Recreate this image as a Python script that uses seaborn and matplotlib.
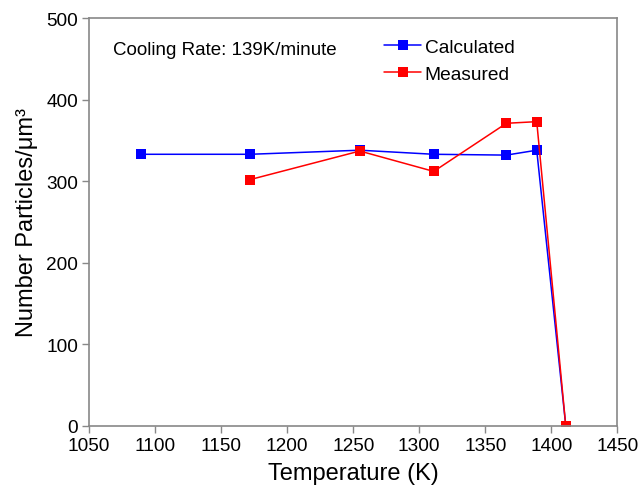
import matplotlib
matplotlib.use("Agg")
import matplotlib.pyplot as plt
import seaborn as sns
import pandas as pd

calc_temp = [1089, 1172, 1255, 1311, 1366, 1389, 1411]
calc_vals = [333, 333, 338, 333, 332, 338, 0]
meas_temp = [1172, 1255, 1311, 1366, 1389, 1411]
meas_vals = [302, 337, 312, 371, 373, 0]
series = ["Calculated", "Measured"]
colors = ["#0000ff", "#ff0000"]
x_ticks = [1050, 1100, 1150, 1200, 1250, 1300, 1350, 1400, 1450]
y_ticks = [0, 100, 200, 300, 400, 500]

df = pd.concat([
    pd.DataFrame({"T": calc_temp, "N": calc_vals, "series": series[0]}),
    pd.DataFrame({"T": meas_temp, "N": meas_vals, "series": series[1]}),
])

sns.set_style("ticks")
plt.rcParams['font.family'] = ['Liberation Sans', 'DejaVu Sans']
plt.rcParams['text.color'] = 'black'
plt.rcParams['axes.labelcolor'] = 'black'
plt.rcParams['xtick.labelcolor'] = 'black'
plt.rcParams['ytick.labelcolor'] = 'black'

fig = plt.figure(figsize=(6.41, 4.89), dpi=100)
ax = fig.add_axes([0.139, 0.127, 0.824, 0.834])
sns.lineplot(data=df, x="T", y="N", hue="series", hue_order=series,
             palette=colors, marker="s", markersize=7, markeredgewidth=0,
             linewidth=1.1, sort=False, ax=ax, estimator=None)

ax.set_xlim(1050, 1450)
ax.set_ylim(0, 500)
ax.set_xticks(x_ticks)
ax.set_yticks(y_ticks)
ax.tick_params(labelsize=13.7, direction="out", length=5, color="#888888", width=1, pad=3)
for s in ax.spines.values():
    s.set_visible(True)
    s.set_color("#888888")
    s.set_linewidth(1.2)
ax.set_xlabel("Temperature (K)", fontsize=17, labelpad=6)
ax.set_ylabel("Number Particles/μm³", fontsize=17, labelpad=6)
ax.text(0.045, 0.924, "Cooling Rate: 139K/minute", transform=ax.transAxes,
        fontsize=13.5, va="center", ha="left")
leg = ax.legend(loc="upper left", bbox_to_anchor=(0.559, 0.95), frameon=False,
                fontsize=13.8, handlelength=1.9, handletextpad=0.2,
                labelspacing=0.5, borderpad=0, borderaxespad=0)
fig.savefig("out.png", dpi=100)
